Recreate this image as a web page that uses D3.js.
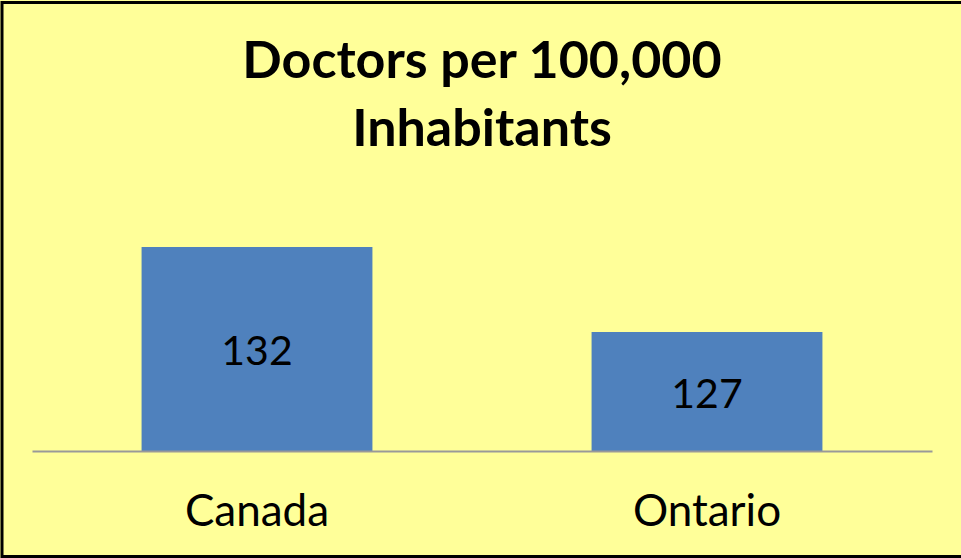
<!DOCTYPE html>
<html>
<head>
<meta charset="utf-8">
<script src="https://cdn.jsdelivr.net/npm/d3@7"></script>
<style>
  html, body { margin: 0; padding: 0; background: #ffffff; overflow: hidden; }
  svg { display: block; }
</style>
</head>
<body>
<script>
const categories = ["Canada", "Ontario"];
const values = [132, 127];
const titleLines = ["Doctors per 100,000", "Inhabitants"];
const yDomain = [120, 134];

const W = 961, H = 558;
const svg = d3.select("body").append("svg").attr("width", W).attr("height", H);

svg.append("rect").attr("x", 0).attr("y", 0).attr("width", W).attr("height", H).attr("fill", "#FFFF99");
svg.append("rect").attr("x", 2).attr("y", 2.5).attr("width", W + 20).attr("height", 554)
  .attr("fill", "none").attr("stroke", "#000").attr("stroke-width", 3);

const font = "Lato, 'Open Sans', sans-serif";

svg.append("g").selectAll("text").data(titleLines).join("text")
  .attr("x", 482).attr("y", (d, i) => 78 + i * 68)
  .attr("text-anchor", "middle")
  .attr("font-family", font).attr("font-weight", "bold").attr("font-size", 52)
  .attr("fill", "#000").text(d => d);

const x = d3.scaleBand().domain(categories).range([32, 932]).padding(0);
const y = d3.scaleLinear().domain(yDomain).range([451, 213]);
const barW = x.bandwidth() * 0.513;

const data = categories.map((c, i) => ({ c, v: values[i] }));

svg.append("g").selectAll("rect").data(data).join("rect")
  .attr("x", d => x(d.c) + x.bandwidth() / 2 - barW / 2)
  .attr("y", d => y(d.v))
  .attr("width", barW)
  .attr("height", d => y(yDomain[0]) - y(d.v))
  .attr("fill", "#4F81BD");

svg.append("g").selectAll("text").data(data).join("text")
  .attr("x", d => x(d.c) + x.bandwidth() / 2)
  .attr("y", d => (y(d.v) + y(yDomain[0])) / 2 + 16)
  .attr("text-anchor", "middle")
  .attr("font-family", font).attr("font-size", 41)
  .attr("fill", "#000").text(d => d.v);

const xAxis = svg.append("g").attr("transform", `translate(0,${y(yDomain[0])})`)
  .call(d3.axisBottom(x).tickSize(0).tickPadding(0));
xAxis.select(".domain").attr("stroke", "#999").attr("stroke-width", 2);
xAxis.selectAll(".tick text")
  .attr("dy", 0).attr("y", 75)
  .attr("font-family", font).attr("font-size", 44).attr("fill", "#000");
</script>
</body>
</html>
